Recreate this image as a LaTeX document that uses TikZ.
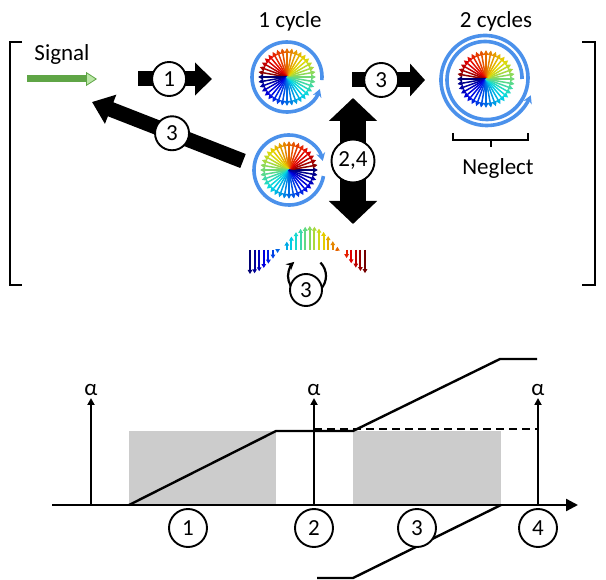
\documentclass[tikz,border=0pt]{standalone}
\usepackage{fontspec}
\setmainfont{Carlito}
\usetikzlibrary{arrows.meta}

\definecolor{ringblue}{RGB}{75,145,235}
\definecolor{siggreen}{RGB}{95,165,70}
\definecolor{siglight}{RGB}{185,230,165}
\definecolor{boxgray}{RGB}{204,204,204}

% jet colour map, #1 name, #2 value in [0,1]
\newcommand{\jetcolor}[2]{%
  \pgfmathsetmacro\jr{0.9*max(0,min(1,1.5-abs(4*#2-3)))}%
  \pgfmathsetmacro\jg{0.85*max(0,min(1,1.5-abs(4*#2-2)))}%
  \pgfmathsetmacro\jb{0.9*max(0,min(1,1.5-abs(4*#2-1)))}%
  \definecolor{#1}{rgb}{\jr,\jg,\jb}}

% spokes of one wheel, #1 centre, #2 colour value from angle \a
\newcommand{\wheelspokes}[2]{%
  \foreach \a in {0,10,...,350}{
    \pgfmathsetmacro\wt{#2}
    \jetcolor{wc}{\wt}
    \draw[spoke, wc] (#1) -- ++(-\a:29);
  }}

\begin{document}
\begin{tikzpicture}[x=1pt,y=1pt,yscale=-1,
  lbl/.style={font=\fontsize{23}{27}\selectfont, inner sep=0.75pt},
  num/.style={circle, draw, line width=1.9pt, fill=white, minimum size=34pt, inner sep=0pt, font=\fontsize{23}{27}\selectfont},
  blockarrow/.style={line width=15pt, -{Triangle[length=17pt,width=32pt]}},
  ring/.style={ringblue, line width=3.6pt, -{Stealth[length=8pt,width=9pt]}},
  spoke/.style={line width=1.5pt, -{Triangle[length=5pt,width=5pt]}},
  bar/.style={line width=2pt, -{Triangle[length=4pt,width=4.5pt]}},
  axisline/.style={line width=2.4pt},
  ]
\useasboundingbox (0,0) rectangle (606,580);

% brackets
\draw[line width=2.4pt] (22,42) -- (10,42) -- (10,285) -- (22,285);
\draw[line width=2.4pt] (582,42) -- (595,42) -- (595,285) -- (582,285);

% signal
\node[lbl] (sig) at (62,54) {Signal};
\coordinate (sigs) at (27,79);
\coordinate (sige) at (97,79);
\draw[line width=7pt, siggreen, -{Triangle[length=11pt,width=14pt,fill=siglight,line width=0.8pt]}] (sigs) -- (sige);

% wheels
\coordinate (w1) at (287,77);
\coordinate (w2) at (289,170);
\coordinate (w3) at (486,79);
\node[lbl] (cyc1) at (290,21) {1 cycle};
\node[lbl] (cyc2) at (496,21) {2 cycles};
\wheelspokes{w1}{mod(\a+180,360)/360}
\wheelspokes{w2}{mod(360-\a,360)/360}
\wheelspokes{w3}{mod(\a+180,360)/360}
\draw[ring] (w1) ++(5:35) arc[start angle=5, end angle=-340, radius=35];
\draw[ring] (w2) ++(10:35) arc[start angle=10, end angle=345, radius=35];
\draw[ring] plot[domain=0:700, samples=140, variable=\t] ({486+(36+6*\t/360)*cos(\t)}, {79-(36+6*\t/360)*sin(\t)});

% neglect
\draw[line width=2pt] (453,133) -- (453,140) -- (528,140) -- (528,133);
\draw[line width=2pt] (491,140) -- (491,147);
\node[lbl] (neg) at (498,168) {Neglect};

% block arrows
\coordinate (a1s) at (138,79);
\coordinate (a1e) at (212,79);
\draw[blockarrow] (a1s) -- node[num, pos=0.42] (n1) {1} (a1e);
\coordinate (a3s) at (352,80);
\coordinate (a3e) at (425,80);
\draw[blockarrow, -{Triangle[length=15pt,width=32pt]}] (a3s) -- node[num, pos=0.4] (n3b) {3} (a3e);
\coordinate (d3s) at (243,161);
\coordinate (d3e) at (92,102);
\draw[blockarrow, -{Triangle[length=20pt,width=30pt]}] (d3s) -- node[num, pos=0.47] (n3a) {3} (d3e);
\coordinate (v24s) at (353,224);
\coordinate (v24e) at (353,98);
\draw[line width=26pt, {Triangle[length=23pt,width=47pt]}-{Triangle[length=23pt,width=47pt]}] (v24s) -- node[num, minimum size=43pt] (n24) {2,4} (v24e);

% field bars
\foreach \i in {0,...,25}{
  \pgfmathsetmacro\bx{250+4.6*\i}
  \pgfmathsetmacro\bv{-cos(3*(\bx-250))}
  \pgfmathsetmacro\bt{\i/25}
  \jetcolor{bc}{\bt}
  \pgfmathparse{abs(\bv)>0.12 ? 1 : 0}
  \ifdim\pgfmathresult pt>0.5pt
    \draw[bar, bc] (\bx,250) -- (\bx,{250-24*\bv});
  \fi
}
\coordinate (lc) at (307,276);
\draw[line width=2.2pt, -{Stealth[length=8pt,width=8pt]}] (lc) ++(-45:19) arc[start angle=-45, end angle=228, radius=19];
\node[num, minimum size=32pt] (n3c) at (306,290) {3};

% lower graph
\fill[boxgray] (129,431) rectangle (276,505);
\fill[boxgray] (353,431) rectangle (501,505);
\coordinate (ax0) at (52,505);
\coordinate (ax1) at (578,505);
\draw[axisline, -{Triangle[length=12pt,width=12pt]}] (ax0) -- (ax1);
\foreach \x/\k in {91/1,314/2,538/3}{
  \draw[axisline, -{Triangle[length=7pt,width=7pt]}] (\x,505) -- (\x,398) coordinate (tip\k);
  \node[lbl, above=1pt] (al\k) at (tip\k) {α};
}
\draw[axisline] (129,505) -- (276,431) -- (353,431) -- (500,359) -- (537,359);
\draw[axisline, dash pattern=on 8pt off 5pt] (314,429) -- (538,429);
\draw[axisline] (501,505) -- (353,578) -- (317,578);
\foreach \x/\lab in {188/1,314/2,417/3,538/4}{
  \node[num, minimum size=38pt] (t\lab) at (\x,528) {\lab};
}
\end{tikzpicture}
\end{document}
